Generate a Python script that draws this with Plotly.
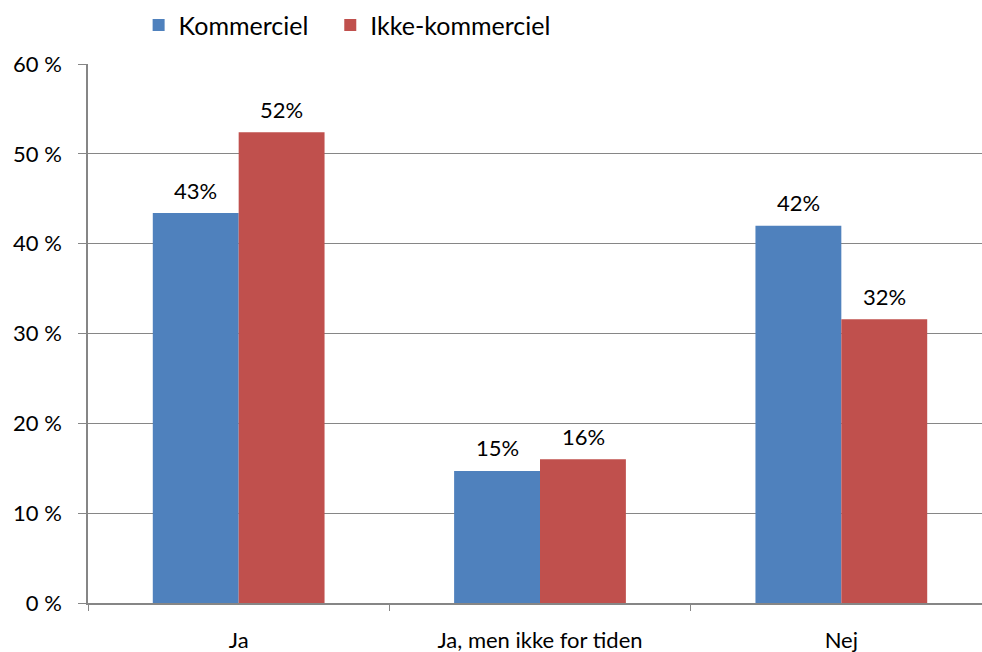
import plotly.graph_objects as go

categories = ["Ja", "Ja, men ikke for tiden", "Nej"]
kommerciel = [43.4, 14.7, 42.0]
ikke_kommerciel = [52.4, 16.0, 31.6]
y_ticks = [0, 10, 20, 30, 40, 50, 60]
y_tick_labels = ["0 %", "10 %", "20 %", "30 %", "40 %", "50 %", "60 %"]

FONT = "Lato, Open Sans, sans-serif"
BAR_SHIFT = 43  # half of a bar width in px, for label placement

fig = go.Figure()
fig.add_trace(go.Bar(
    name="Kommerciel", x=categories, y=kommerciel,
    marker=dict(color="#4F81BD", line=dict(width=0)), legend="legend",
))
fig.add_trace(go.Bar(
    name="Ikke-kommerciel", x=categories, y=ikke_kommerciel,
    marker=dict(color="#C0504D", line=dict(width=0)), legend="legend2",
))

for vals, shift in ((kommerciel, -BAR_SHIFT), (ikke_kommerciel, BAR_SHIFT)):
    for c, v in zip(categories, vals):
        fig.add_annotation(
            x=c, y=v, xref="x", yref="y", text=f"{round(v)}%",
            showarrow=False, xshift=shift, yshift=23, yanchor="middle",
            font=dict(size=22, color="#000000", family=FONT),
        )

legend_common = dict(orientation="h", xanchor="left", y=1.072, yanchor="middle",
                     yref="paper", font=dict(size=25), itemwidth=30,
                     bgcolor="rgba(0,0,0,0)")

# The reference's plot area runs past the right edge of the 982 px view,
# so the figure is a little wider than the window and is cropped there.
fig.update_layout(
    width=1000, height=652,
    margin=dict(l=88, r=8, t=64, b=49, autoexpand=False),
    paper_bgcolor="white", plot_bgcolor="white",
    barmode="group", bargap=0.43, bargroupgap=0,
    font=dict(family=FONT, size=22, color="#000000"),
    showlegend=True,
    legend=dict(x=0.056, **legend_common),
    legend2=dict(x=0.268, **legend_common),
)
fig.update_xaxes(
    type="category", showline=True, linecolor="#868686", linewidth=1.5,
    ticks="outside", tickson="boundaries", ticklen=6, tickcolor="#868686",
    tickfont=dict(size=22), ticklabelstandoff=17, showgrid=False, automargin=False,
)
fig.update_yaxes(
    range=[0, 60], tickvals=y_ticks, ticktext=y_tick_labels,
    showline=True, linecolor="#868686", linewidth=1.5,
    ticks="outside", ticklen=8, tickcolor="#868686",
    showgrid=True, gridcolor="#868686", gridwidth=1,
    zeroline=False, tickfont=dict(size=22), ticklabelstandoff=12, automargin=False,
)

fig.write_html(
    "out.html",
    config={"displayModeBar": False},
    post_script="document.body.style.margin='0';document.body.style.overflow='hidden';",
)
